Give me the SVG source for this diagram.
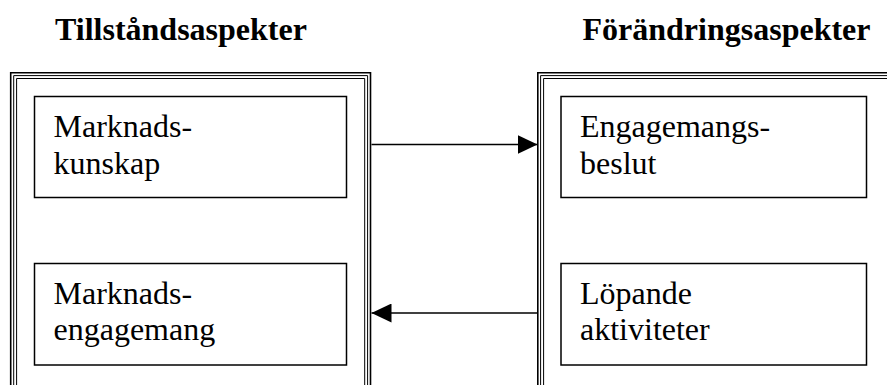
<svg xmlns="http://www.w3.org/2000/svg" width="887" height="385" viewBox="0 0 887 385">
  <style>
    text { font-family: "Liberation Serif", "Times New Roman", serif; font-size: 32px; fill: #000; }
    .title { font-weight: bold; }
    .box { fill: #fff; stroke: #000; stroke-width: 1.5; }
    .frame-outer { fill: none; stroke: #000; stroke-width: 1.6; }
    .frame-line { fill: none; stroke: #000; stroke-width: 1; }
    .conn { fill: none; stroke: #000; stroke-width: 1.6; }
  </style>
  <defs>
    <marker id="arrow" viewBox="0 0 20 19" refX="20" refY="9.5" markerWidth="20" markerHeight="19" markerUnits="userSpaceOnUse" orient="auto">
      <path d="M0,0 L20,9.5 L0,19 Z" fill="#000"/>
    </marker>
  </defs>
  <rect width="887" height="385" fill="#fff"/>

  <!-- column headings -->
  <text class="title" x="55" y="40">Tillståndsaspekter</text>
  <text class="title" x="582.5" y="40">Förändringsaspekter</text>

  <!-- left column: triple-line frame, open at the bottom -->
  <g id="state-frame">
    <path class="frame-outer" d="M10.7,390 V72.7 H370.5 V390"/>
    <path class="frame-line" d="M13.7,390 V75.6 H367.6 V390"/>
    <path class="frame-line" d="M16.6,390 V78.5 H364.7 V390"/>
  </g>

  <!-- right column: triple-line frame, open at the bottom and right -->
  <g id="change-frame">
    <path class="frame-outer" d="M537.8,390 V72.7 H890"/>
    <path class="frame-line" d="M540.6,390 V75.6 H890"/>
    <path class="frame-line" d="M543.6,390 V78.5 H890"/>
  </g>

  <g id="marknadskunskap">
    <rect class="box" x="34.5" y="96.5" width="312" height="101"/>
    <text x="53.5" y="137">Marknads-</text>
    <text x="53.5" y="173.5">kunskap</text>
  </g>

  <g id="marknadsengagemang">
    <rect class="box" x="34.5" y="263.5" width="312" height="101.5"/>
    <text x="53.5" y="303.5">Marknads-</text>
    <text x="53.5" y="340">engagemang</text>
  </g>

  <g id="engagemangsbeslut">
    <rect class="box" x="561" y="96.5" width="305.5" height="101"/>
    <text x="580" y="137">Engagemangs-</text>
    <text x="580" y="173.5">beslut</text>
  </g>

  <g id="lopande-aktiviteter">
    <rect class="box" x="561" y="263.5" width="305.5" height="101.5"/>
    <text x="580" y="303.5">Löpande</text>
    <text x="580" y="340">aktiviteter</text>
  </g>

  <g id="connectors">
    <line class="conn" x1="371.5" y1="144.5" x2="537.5" y2="144.5" marker-end="url(#arrow)"/>
    <line class="conn" x1="537.5" y1="313" x2="371.5" y2="313" marker-end="url(#arrow)"/>
  </g>
</svg>
